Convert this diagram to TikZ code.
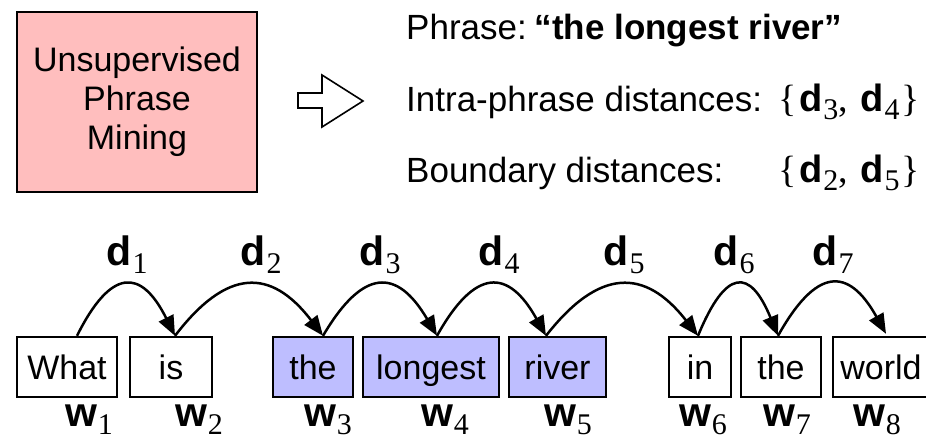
\documentclass[tikz,border=0pt]{standalone}
\usepackage{fontspec}
\setmainfont{Liberation Sans}
\newfontfamily\numfont{Liberation Serif}
\usetikzlibrary{arrows.meta}

\definecolor{minepink}{RGB}{255,190,190}
\definecolor{phraseblue}{RGB}{190,190,255}

% bold letter with a roman subscript digit
\newcommand\symsub[3][41]{{\fontsize{#1}{#1}\selectfont\bfseries #2}\kern1pt\raisebox{-8pt}{\fontsize{30}{30}\selectfont\numfont #3}}
% a two-element set written with serif braces
\newcommand\pairset[4]{{\fontsize{38}{38}\selectfont\numfont\{\kern2pt}\symsub[38]{#1}{#2}{\fontsize{38}{38}\selectfont\numfont,\ \kern3pt}\symsub[38]{#3}{#4}{\fontsize{38}{38}\selectfont\numfont\kern2pt\}}}

\begin{document}
\begin{tikzpicture}[x=1pt,y=-1pt,
  txt/.style={font=\fontsize{35}{40}\selectfont, inner sep=0pt},
  wordbox/.style={draw, line width=2.4pt, minimum height=60pt, inner sep=0pt,
    text height=25pt, text depth=0pt, font=\fontsize{34}{39}\selectfont},
  phrasebox/.style={wordbox, fill=phraseblue},
  lbl/.style={inner sep=0pt, anchor=base},
  hop/.style={line width=2.5pt, -{Triangle[length=20pt,width=16pt]}}]

\useasboundingbox (0,0) rectangle (926,439);

% method box and the hollow arrow next to it
\node[draw, line width=2.4pt, fill=minepink, minimum width=240pt, minimum height=180pt,
  align=center, inner sep=0pt, font=\fontsize{34}{39}\selectfont] (upm) at (137,102)
  {Unsupervised\\Phrase\\Mining};
\draw[line width=1.6pt, line join=miter] (298,93) -- (322,93) -- (322,75) -- (363,101)
  -- (322,127) -- (322,108) -- (298,108) -- cycle;

% phrase summary
\node[txt, anchor=base west] (phr) at (406,39) {Phrase: \kern-5pt\textbf{“the longest river”}};
\node[txt, anchor=base west] (intra) at (406,111) {Intra-phrase distances:};
\node[inner sep=0pt, anchor=base east] (intraset) at (920,111) {\pairset{d}{3}{d}{4}};
\node[txt, anchor=base west] (bnd) at (406,182) {Boundary distances:};
\node[inner sep=0pt, anchor=base east] (bndset) at (920,182) {\pairset{d}{2}{d}{5}};

% the sentence
\node[wordbox, minimum width=100pt] (b1) at (67,367) {What};
\node[wordbox, minimum width=82pt] (b2) at (171,367) {is};
\node[phrasebox, minimum width=80pt] (b3) at (313,367) {the};
\node[phrasebox, minimum width=136pt] (b4) at (431,367) {longest};
\node[phrasebox, minimum width=97pt] (b5) at (557.5,367) {river};
\node[wordbox, minimum width=62pt] (b6) at (700,367) {in};
\node[wordbox, minimum width=80pt] (b7) at (781,367) {the};
\node[wordbox, minimum width=96pt] (b8) at (881,367) {world};

% word labels
\node[lbl] (w1) at (89,426) {\symsub{w}{1}};
\node[lbl] (w2) at (199,426) {\symsub{w}{2}};
\node[lbl] (w3) at (328,426) {\symsub{w}{3}};
\node[lbl] (w4) at (445,426) {\symsub{w}{4}};
\node[lbl] (w5) at (568,426) {\symsub{w}{5}};
\node[lbl] (w6) at (703,426) {\symsub{w}{6}};
\node[lbl] (w7) at (787,426) {\symsub{w}{7}};
\node[lbl] (w8) at (877,426) {\symsub{w}{8}};

% attachment points on the box tops
\coordinate (t1) at ([xshift=10pt]b1.north);
\coordinate (t2) at ([xshift=4pt]b2.north);
\coordinate (t3) at ([xshift=10pt]b3.north);
\coordinate (t4) at ([xshift=6pt]b4.north);
\coordinate (t5) at ([xshift=-11.5pt]b5.north);
\coordinate (t6) at ([xshift=-2pt]b6.north);
\coordinate (t7) at ([xshift=-3pt]b7.north);
\coordinate (t8) at ([xshift=5pt,yshift=2pt]b8.north);

% distance hops between neighbouring words
\draw[hop] (t1) .. controls +(34,-68) and +(-34,-68) .. (t2);
\draw[hop] (t2) .. controls +(52,-68) and +(-52,-68) .. (t3);
\draw[hop] (t3) .. controls +(40,-68) and +(-40,-68) .. (t4);
\draw[hop] (t4) .. controls +(38,-68) and +(-38,-68) .. (t5);
\draw[hop] (t5) .. controls +(53,-68) and +(-53,-68) .. (t6);
\draw[hop] (t6) .. controls +(28,-68) and +(-28,-68) .. (t7);
\draw[hop] (t7) .. controls +(38,-68) and +(-38,-68) .. (t8);

% distance labels
\node[lbl] (d1) at (127,265) {\symsub{d}{1}};
\node[lbl] (d2) at (261,265) {\symsub{d}{2}};
\node[lbl] (d3) at (380,265) {\symsub{d}{3}};
\node[lbl] (d4) at (499,265) {\symsub{d}{4}};
\node[lbl] (d5) at (624,265) {\symsub{d}{5}};
\node[lbl] (d6) at (734,265) {\symsub{d}{6}};
\node[lbl] (d7) at (833,265) {\symsub{d}{7}};
\end{tikzpicture}
\end{document}
